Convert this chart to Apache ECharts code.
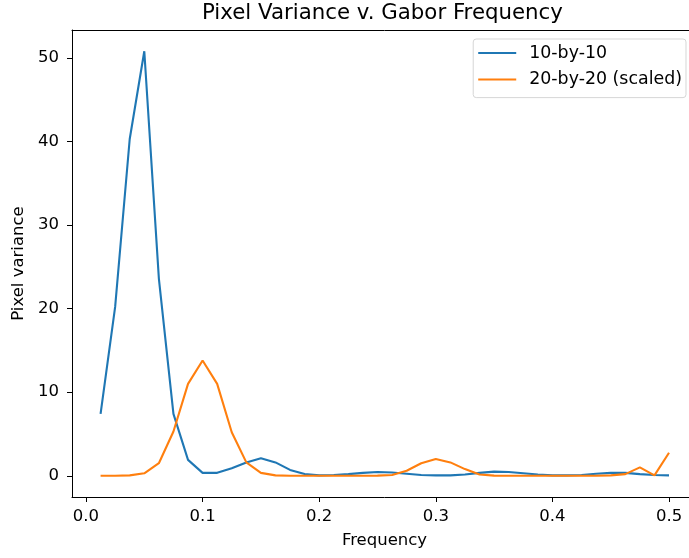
<!DOCTYPE html>
<html>
<head>
<meta charset="utf-8"/>
<title>Pixel Variance v. Gabor Frequency</title>
<script src="https://cdn.jsdelivr.net/npm/echarts@6/dist/echarts.min.js"></script>
<style>
	html, body{ margin:0; background:#fff; overflow:hidden; }
	/* the axes run a little past the right edge of the window, as in the original */
	#chart{ width:697px; height:558px; }
</style>
</head>
<body>
<div id="chart"></div>
<script>
	// frequencies 0.0125 .. 0.5
	var freqs = [0.0125, 0.025, 0.0375, 0.05, 0.0625, 0.075, 0.0875, 0.1, 0.1125, 0.125,
		0.1375, 0.15, 0.1625, 0.175, 0.1875, 0.2, 0.2125, 0.225, 0.2375, 0.25,
		0.2625, 0.275, 0.2875, 0.3, 0.3125, 0.325, 0.3375, 0.35, 0.3625, 0.375,
		0.3875, 0.4, 0.4125, 0.425, 0.4375, 0.45, 0.4625, 0.475, 0.4875, 0.5];
	var var10 = [7.4, 20.2, 40.3, 50.8, 23.6, 7.4, 1.9, 0.35, 0.35, 0.9,
		1.6, 2.1, 1.6, 0.7, 0.2, 0.05, 0.1, 0.2, 0.35, 0.45,
		0.4, 0.25, 0.1, 0.05, 0.05, 0.15, 0.35, 0.5, 0.45, 0.3,
		0.15, 0.05, 0.05, 0.1, 0.25, 0.35, 0.35, 0.2, 0.1, 0.05];
	var var20 = [0, 0, 0.05, 0.3, 1.5, 5.3, 11.0, 13.8, 11.0, 5.2,
		1.6, 0.35, 0.05, 0, 0, 0, 0, 0, 0, 0.02,
		0.1, 0.6, 1.5, 2.0, 1.6, 0.8, 0.15, 0.02, 0, 0,
		0, 0, 0, 0, 0, 0.05, 0.2, 1.0, 0.05, 2.75];
	var xTicks = [0, 0.1, 0.2, 0.3, 0.4, 0.5];
	var yTicks = [0, 10, 20, 30, 40, 50];

	function pairs(xs, ys){
		return xs.map(function(x, i){ return [x, ys[i]]; });
	}

	var font = 'DejaVu Sans';
	var fs = 16.5;
	// top and right spines
	var spine = {
		axisLine: {show: true, onZero: false, lineStyle: {color: '#000', width: 1}},
		axisTick: {show: false},
		axisLabel: {show: false},
		splitLine: {show: false}
	};

	var option = {
		backgroundColor: '#fff',
		animation: false,
		title: {
			text: 'Pixel Variance v. Gabor Frequency',
			left: 202,
			top: 3,
			padding: 0,
			textStyle: {fontFamily: font, fontSize: 21.3, fontWeight: 'normal', color: '#000'}
		},
		legend: {
			orient: 'vertical',
			right: 11,
			top: 39,
			padding: [4, 4, 8, 5],
			itemGap: 6.6,
			itemWidth: 38,
			itemHeight: 2,
			backgroundColor: '#fff',
			borderColor: 'rgba(204,204,204,0.8)',
			borderWidth: 1,
			borderRadius: 3,
			icon: 'rect',
			textStyle: {fontFamily: font, fontSize: 17.4, lineHeight: 20, color: '#000', padding: [0, 0, 0, 8]},
			data: ['10-by-10', '20-by-20 (scaled)']
		},
		grid: {left: 72, right: 0, top: 30, bottom: 61, containLabel: false},
		xAxis: [{
			type: 'value',
			min: -0.012,
			max: 0.524,
			name: 'Frequency',
			nameLocation: 'middle',
			nameGap: 35,
			nameTextStyle: {fontFamily: font, fontSize: fs, color: '#000'},
			axisLine: {show: true, onZero: false, lineStyle: {color: '#000', width: 1}},
			axisTick: {show: true, inside: false, length: 5, lineStyle: {color: '#000'}, customValues: xTicks},
			axisLabel: {fontFamily: font, fontSize: fs, color: '#000', margin: 11, customValues: xTicks,
				formatter: function(v){ return v.toFixed(1); }},
			splitLine: {show: false}
		}, Object.assign({type: 'value', position: 'top', min: -0.012, max: 0.524}, spine)],
		yAxis: [{
			type: 'value',
			min: -2.54,
			max: 53.34,
			name: 'Pixel variance',
			nameLocation: 'middle',
			nameGap: 45,
			nameTextStyle: {fontFamily: font, fontSize: fs, color: '#000'},
			axisLine: {show: true, onZero: false, lineStyle: {color: '#000', width: 1}},
			axisTick: {show: true, inside: false, length: 5, lineStyle: {color: '#000'}, customValues: yTicks},
			axisLabel: {fontFamily: font, fontSize: fs, color: '#000', margin: 13, customValues: yTicks},
			splitLine: {show: false}
		}, Object.assign({type: 'value', position: 'right', min: -2.54, max: 53.34}, spine)],
		series: [{
			name: '10-by-10',
			type: 'line',
			data: pairs(freqs, var10),
			showSymbol: false,
			symbol: 'none',
			color: '#1f77b4',
			lineStyle: {width: 2.1, color: '#1f77b4'}
		}, {
			name: '20-by-20 (scaled)',
			type: 'line',
			data: pairs(freqs, var20),
			showSymbol: false,
			symbol: 'none',
			color: '#ff7f0e',
			lineStyle: {width: 2.1, color: '#ff7f0e'}
		}]
	};

	var chart = echarts.init(document.getElementById('chart'));
	chart.setOption(option);
</script>
</body>
</html>
